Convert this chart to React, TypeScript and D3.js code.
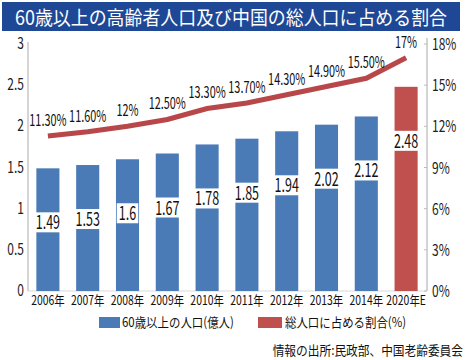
import { scaleBand, scaleLinear, line } from 'd3';

const years = ['2006年', '2007年', '2008年', '2009年', '2010年', '2011年', '2012年', '2013年', '2014年', '2020年E'];
const elderly = [1.49, 1.53, 1.6, 1.67, 1.78, 1.85, 1.94, 2.02, 2.12, 2.48];
const share = [11.3, 11.6, 12, 12.5, 13.3, 13.7, 14.3, 14.9, 15.5, 17];
const shareLabels = ['11.30%', '11.60%', '12%', '12.50%', '13.30%', '13.70%', '14.30%', '14.90%', '15.50%', '17%'];
const leftTicks = [0, 0.5, 1, 1.5, 2, 2.5, 3];
const leftTickLabels = ['0', '0.5', '1', '1.5', '2', '2.5', '3'];
const rightTicks = [0, 3, 6, 9, 12, 15, 18];

const BLUE = '#4a7bb7';
const RED = '#c0504d';
const LINE_RED = '#b8474a';
const JP = "'Noto Sans CJK JP', sans-serif";

// narrow text: the reference uses a condensed font, squeeze horizontally
const NText = ({ x, y, size, anchor = 'start', sx = 0.78, fill = '#111', children }: any) => (
  <text
    transform={`translate(${x},${y}) scale(${sx},1)`}
    textAnchor={anchor}
    fontFamily={JP}
    fontSize={size}
    fill={fill}
  >
    {children}
  </text>
);

const App = () => {
  const width = 465;
  const height = 360;
  const left = 28;
  const right = 426;
  const top = 44;
  const bottom = 291;

  const x = scaleBand<string>().domain(years).range([left, right]).paddingInner(0.42).paddingOuter(0.21);
  const y = scaleLinear().domain([0, 3]).range([bottom, top]);
  const y2 = scaleLinear().domain([0, 18]).range([bottom, top]);
  const cx = (d: string) => (x(d) as number) + x.bandwidth() / 2;

  const path = line<number>()
    .x((_, i) => cx(years[i]))
    .y((d) => y2(d))(share);

  return (
    <svg width={width} height={height} style={{ position: 'absolute', left: 0, top: 0 }}>
      <rect width={width} height={height} fill="#fff" />
      {/* title */}
      <rect x={2} y={2} width={458} height={29} fill="#1e4896" />
      <text x={15} y={25} fill="#fff" fontFamily={JP} fontSize={19.5} textLength={432} lengthAdjust="spacingAndGlyphs">
        60歳以上の高齢者人口及び中国の総人口に占める割合
      </text>

      {/* axes */}
      <line x1={left} x2={left} y1={top - 2} y2={bottom} stroke="#d4d4d4" strokeWidth={2} />
      <line x1={right + 1} x2={right + 1} y1={top - 6} y2={bottom} stroke="#d4d4d4" strokeWidth={2} />
      <line x1={left} x2={right + 1} y1={bottom} y2={bottom} stroke="#d9d9d9" strokeWidth={1} />
      {leftTicks.map((t, i) => (
        <NText key={t} x={24} y={y(t) + 5} anchor="end" size={16} sx={0.75} fill="#222">
          {leftTickLabels[i]}
        </NText>
      ))}
      {rightTicks.map((t) => (
        <g key={t}>
          <line x1={right - 2} x2={right + 1} y1={y2(t)} y2={y2(t)} stroke="#bbb" />
          <NText x={432} y={y2(t) + 6} size={16} sx={0.75} fill="#222">
            {t}%
          </NText>
        </g>
      ))}

      {/* bars */}
      {years.map((d, i) => (
        <rect
          key={d}
          x={x(d)}
          y={y(elderly[i])}
          width={x.bandwidth()}
          height={bottom - y(elderly[i])}
          fill={i === years.length - 1 ? RED : BLUE}
        />
      ))}

      {/* bar value labels */}
      {years.map((d, i) => {
        const label = String(elderly[i]);
        const w = label.length * 6.5 + 2;
        const ly = y(elderly[i]) + 54;
        return (
          <g key={d}>
            <rect x={cx(d) - w / 2} y={ly - 10} width={w} height={20} fill="#fff" />
            <NText x={cx(d)} y={ly + 7} anchor="middle" size={19} sx={0.66}>
              {label}
            </NText>
          </g>
        );
      })}

      {/* share line */}
      <path d={path ?? ''} fill="none" stroke={LINE_RED} strokeWidth={5} />
      {years.map((d, i) => (
        <NText key={d} x={cx(d)} y={y2(share[i]) - 10} anchor="middle" size={16} sx={0.68}>
          {shareLabels[i]}
        </NText>
      ))}

      {/* x labels */}
      {years.map((d) => (
        <NText key={d} x={cx(d)} y={305} anchor="middle" size={13} sx={0.8}>
          {d}
        </NText>
      ))}

      {/* legend */}
      <rect x={99} y={317} width={21} height={11} fill={BLUE} />
      <NText x={122} y={327} size={13} sx={0.88}>60歳以上の人口(億人)</NText>
      <rect x={258} y={317} width={24} height={11} fill={RED} />
      <NText x={285} y={327} size={13} sx={0.88}>総人口に占める割合(%)</NText>

      {/* source */}
      <NText x={463} y={355} anchor="end" size={13} sx={0.9}>
        情報の出所:民政部、中国老齢委員会
      </NText>
    </svg>
  );
};

export default App;
